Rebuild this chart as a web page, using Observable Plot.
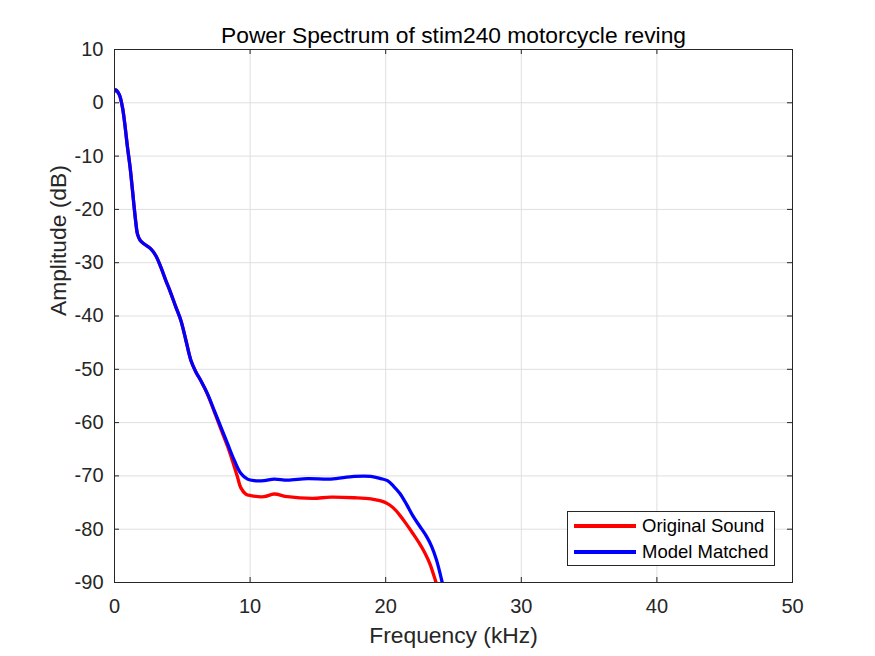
<!DOCTYPE html>
<html>
<head>
<meta charset="utf-8">
<script src="https://cdn.jsdelivr.net/npm/d3@7"></script>
<script src="https://cdn.jsdelivr.net/npm/@observablehq/plot@0.6"></script>
<style>
  html, body { margin: 0; padding: 0; background: #fff; }
  #wrap { position: relative; width: 875px; height: 656px; font-family: "Liberation Sans", Arial, sans-serif; }
  #legend { position: absolute; left: 567px; top: 511px; width: 208px; height: 55px; border: 1px solid #262626; background: #fff; box-sizing: border-box; }
  .row { position: absolute; left: 0; height: 24px; }
  .swatch { position: absolute; left: 6px; width: 62px; height: 4px; }
  .lbl { position: absolute; left: 74px; font-size: 18.5px; color: #000; white-space: nowrap; line-height: 24px; }
</style>
</head>
<body>
<div id="wrap"></div>
<script>
// ---- data ----
const title = "Power Spectrum of stim240 motorcycle reving";
const xLabel = "Frequency (kHz)";
const yLabel = "Amplitude (dB)";
const seriesNames = ["Original Sound", "Model Matched"];
const seriesColors = ["#ff0000", "#0000ff"];
const xTicks = [0, 10, 20, 30, 40, 50];
const yTicks = [10, 0, -10, -20, -30, -40, -50, -60, -70, -80, -90];

const modelFreq = [0, 0.07, 0.34, 0.59, 0.76, 0.96, 1.15, 1.33, 1.45, 1.57, 1.69, 1.89, 2.19, 2.68, 3.05, 3.41, 3.78, 4.15, 4.52, 4.89, 5.26, 5.63, 6.0, 6.36, 6.86, 7.35, 7.84, 8.33, 8.82, 9.31, 9.81, 10.3, 11.03, 11.77, 12.76, 14.23, 15.95, 17.67, 18.9, 19.64, 20.13, 20.6, 21.05, 21.55, 22.03, 22.5, 23.0, 23.4, 23.75, 24.16, 24.3];
const modelDb = [2.2, 2.4, 1.6, -0.9, -4.0, -8.4, -12.1, -16.5, -19.6, -22.4, -24.6, -25.8, -26.5, -27.4, -28.7, -30.8, -33.3, -35.7, -38.3, -40.8, -44.5, -48.3, -50.5, -52.1, -54.6, -57.7, -60.8, -63.9, -67.0, -69.5, -70.6, -70.9, -70.9, -70.6, -70.8, -70.5, -70.6, -70.1, -70.1, -70.5, -70.9, -72.0, -73.3, -75.4, -77.6, -79.4, -81.3, -83.3, -85.8, -89.9, -91.5];

const origFreq = [0, 0.07, 0.34, 0.59, 0.76, 0.96, 1.15, 1.33, 1.45, 1.57, 1.69, 1.89, 2.19, 2.68, 3.05, 3.41, 3.78, 4.15, 4.52, 4.89, 5.26, 5.63, 6.0, 6.36, 6.86, 7.35, 7.84, 8.33, 8.70, 9.07, 9.31, 9.68, 10.05, 11.03, 11.77, 12.76, 14.6, 15.95, 17.67, 18.9, 19.64, 20.13, 20.56, 21.05, 21.54, 22.03, 22.52, 22.9, 23.26, 23.7, 23.9];
const origDb = [2.2, 2.4, 1.6, -0.9, -4.0, -8.4, -12.1, -16.5, -19.6, -22.4, -24.6, -25.8, -26.5, -27.4, -28.7, -30.8, -33.3, -35.7, -38.3, -40.8, -44.5, -48.3, -50.5, -52.1, -54.7, -57.9, -61.2, -64.4, -67.2, -70.2, -72.2, -73.4, -73.7, -73.9, -73.4, -73.9, -74.2, -74.0, -74.1, -74.3, -74.7, -75.2, -76.0, -77.4, -79.1, -80.9, -82.8, -84.5, -86.5, -89.9, -91.5];

// ---- build tables ----
const orig = origFreq.map((f, i) => ({f, db: origDb[i]}));
const model = modelFreq.map((f, i) => ({f, db: modelDb[i]}));

const W = 875, H = 656, mL = 114, mR = 83, mT = 49, mB = 74;
const plotW = W - mL - mR, plotH = H - mT - mB, tickLen = 5;
const ink = "#262626";

const chart = Plot.plot({
  width: W, height: H,
  marginLeft: mL, marginRight: mR, marginTop: mT, marginBottom: mB,
  x: {domain: [0, 50]},
  y: {domain: [-90, 10]},
  style: {fontFamily: "'Liberation Sans', Arial, sans-serif", background: "#fff", color: ink, overflow: "visible"},
  marks: [
    Plot.gridX(xTicks, {stroke: "#dfdfdf", strokeOpacity: 1, strokeWidth: 1}),
    Plot.gridY(yTicks, {stroke: "#dfdfdf", strokeOpacity: 1, strokeWidth: 1}),
    Plot.line(orig, {x: "f", y: "db", stroke: seriesColors[0], strokeWidth: 3.3, curve: "catmull-rom", clip: true}),
    Plot.line(model, {x: "f", y: "db", stroke: seriesColors[1], strokeWidth: 3.3, curve: "catmull-rom", clip: true}),
    Plot.frame({stroke: ink, strokeWidth: 1}),
    Plot.ruleX(xTicks, {x: d => d, stroke: ink, insetTop: plotH - tickLen}),
    Plot.ruleX(xTicks, {x: d => d, stroke: ink, insetBottom: plotH - tickLen}),
    Plot.ruleY(yTicks, {y: d => d, stroke: ink, insetRight: plotW - tickLen}),
    Plot.ruleY(yTicks, {y: d => d, stroke: ink, insetLeft: plotW - tickLen}),
    Plot.axisX(xTicks, {tickSize: 0, tickPadding: 16, fontSize: 20, label: null, tickFormat: d => String(d), fill: ink}),
    Plot.axisY(yTicks, {tickSize: 0, tickPadding: 11, fontSize: 20, label: null, tickFormat: d => String(d), fill: ink}),
    Plot.text([title], {text: d => d, frameAnchor: "top", dy: -7, lineAnchor: "bottom", fontSize: 22.8, fill: "#000"}),
    Plot.text([xLabel], {text: d => d, frameAnchor: "bottom", dy: 60.5, lineAnchor: "bottom", fontSize: 22.8, fill: ink}),
    Plot.text([yLabel], {text: d => d, frameAnchor: "left", dx: -49, rotate: -90, lineAnchor: "bottom", fontSize: 22.8, fill: ink})
  ]
});

const wrap = document.getElementById("wrap");
wrap.appendChild(chart);

// legend (inside the axes, bottom-right)
const legend = document.createElement("div");
legend.id = "legend";
seriesNames.forEach((name, i) => {
  const row = document.createElement("div");
  row.className = "row";
  row.style.top = (2 + i * 26) + "px";
  row.style.width = "100%";
  const sw = document.createElement("div");
  sw.className = "swatch";
  sw.style.background = seriesColors[i];
  sw.style.top = "10px";
  const lb = document.createElement("div");
  lb.className = "lbl";
  lb.style.top = "0px";
  lb.textContent = name;
  row.appendChild(sw);
  row.appendChild(lb);
  legend.appendChild(row);
});
wrap.appendChild(legend);
</script>
</body>
</html>
